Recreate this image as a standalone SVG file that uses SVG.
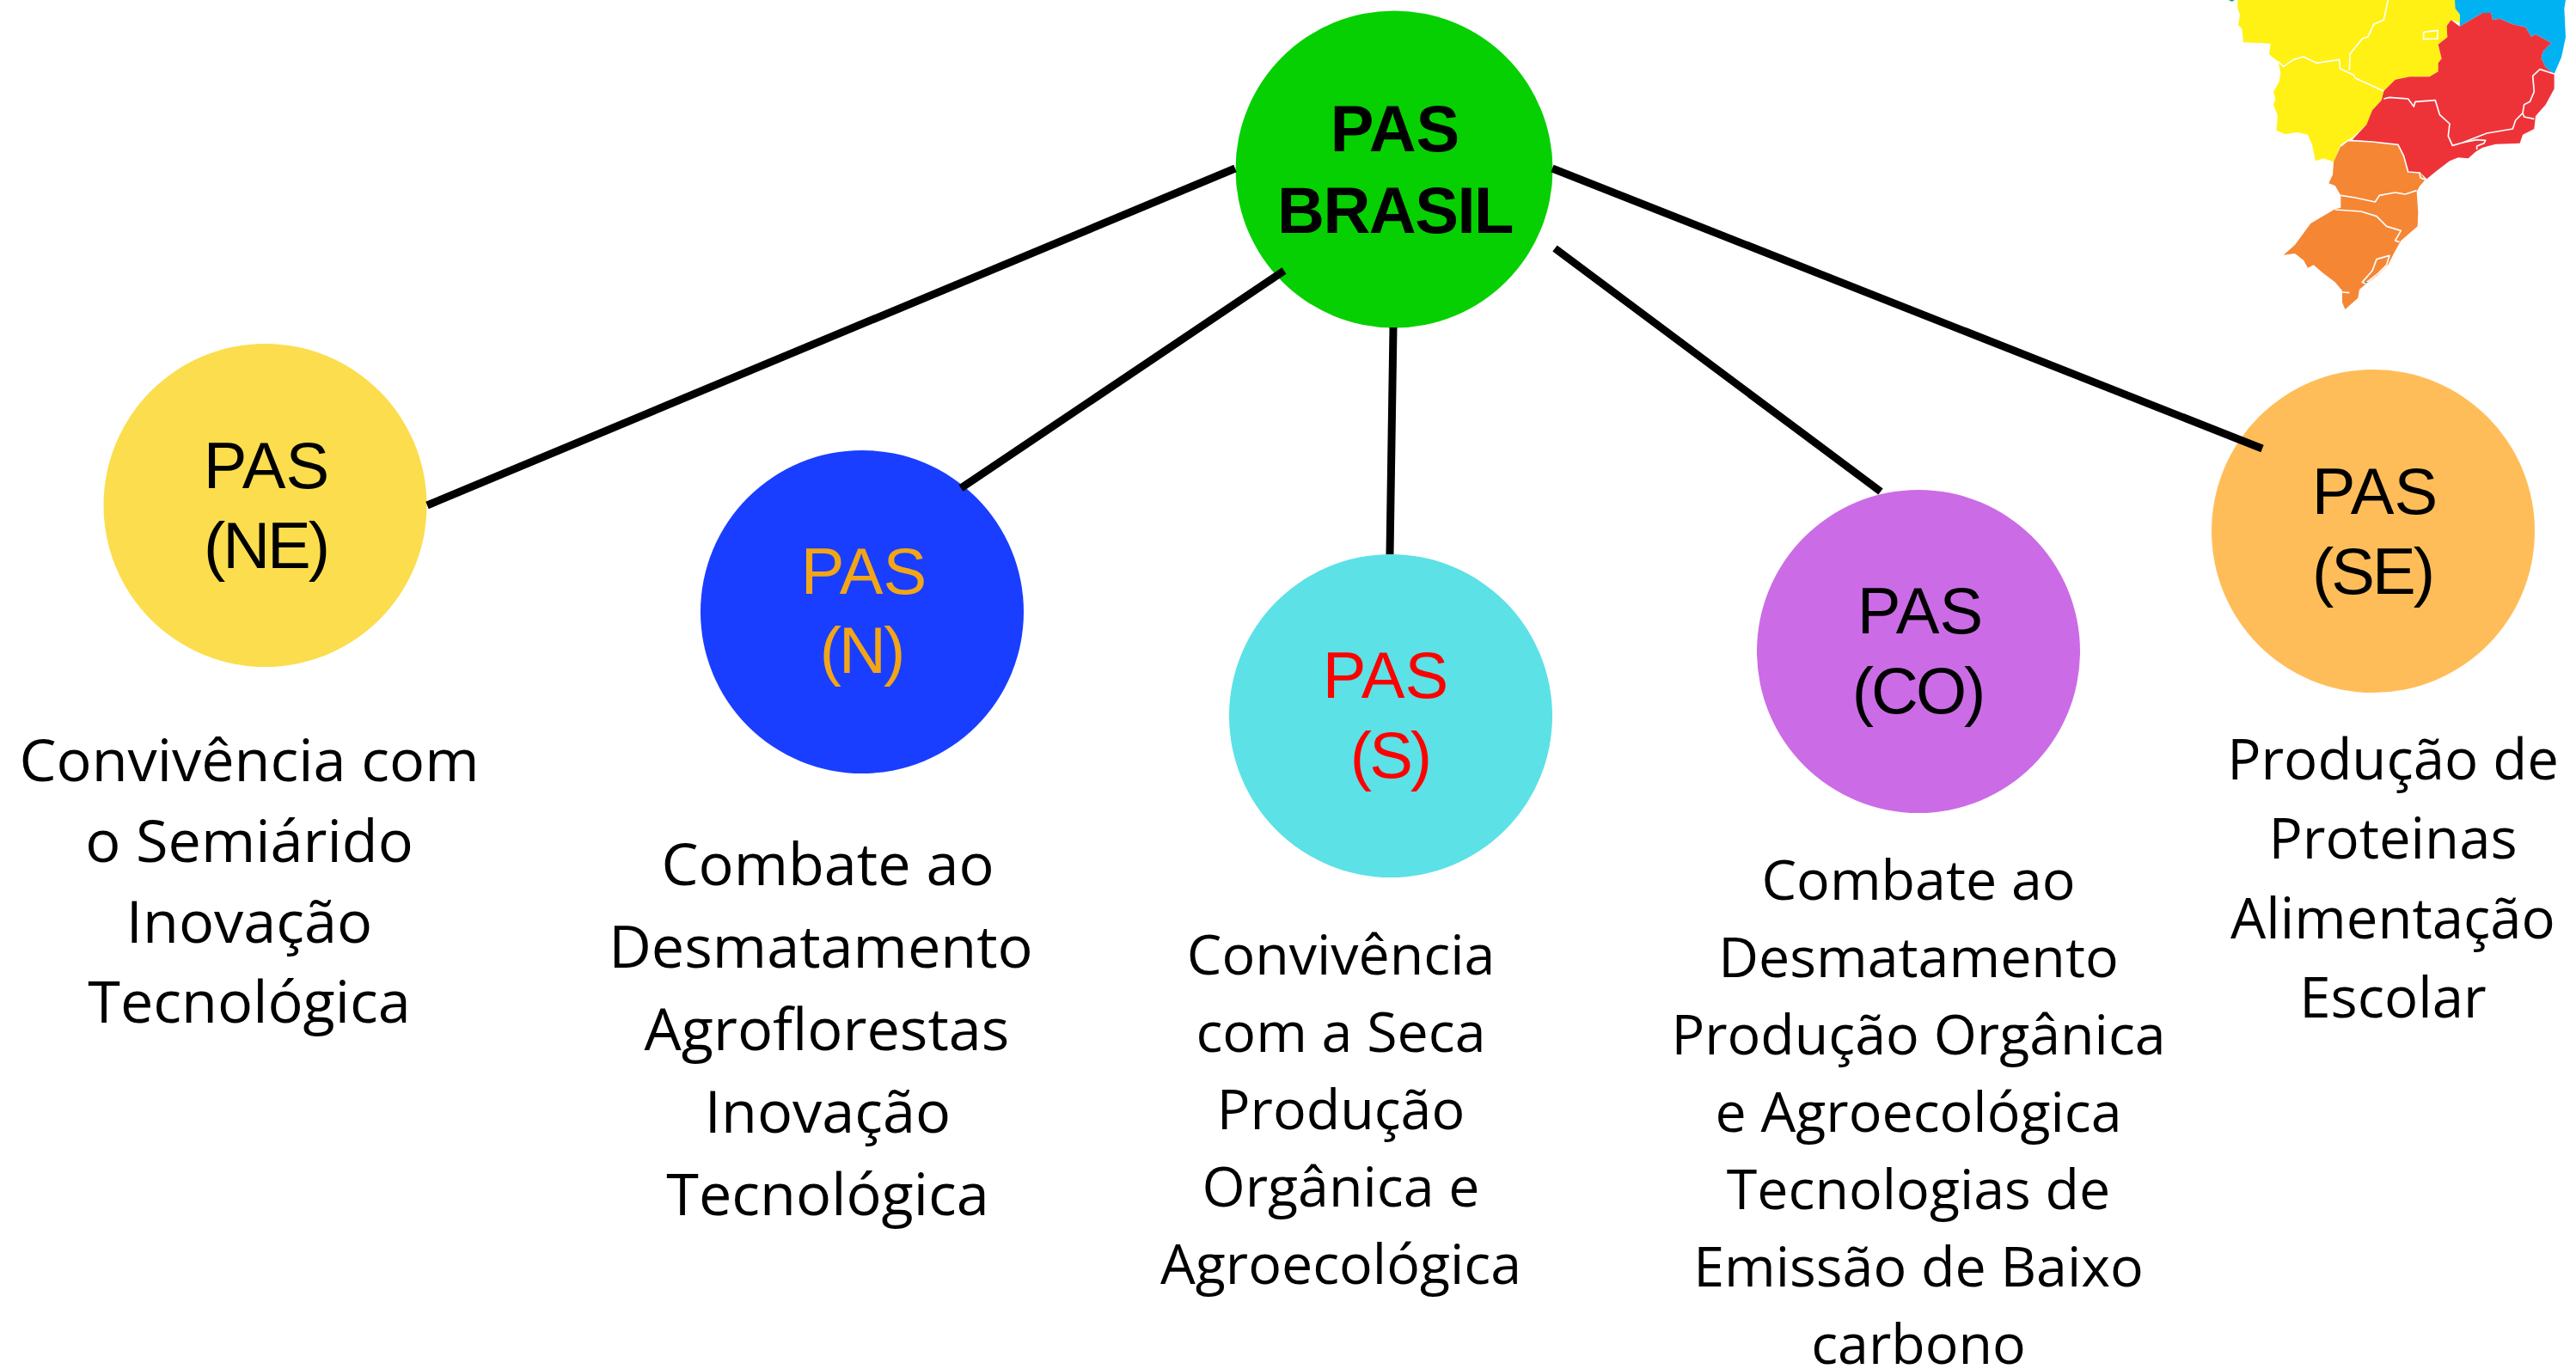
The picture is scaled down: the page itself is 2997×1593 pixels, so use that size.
<svg xmlns="http://www.w3.org/2000/svg" width="2997" height="1593" viewBox="0 0 2997 1593">
<style>
.c{fill:none;stroke:#000;stroke-width:9}
.n{font-family:"Liberation Sans",Arial,sans-serif;font-size:76px;text-anchor:middle}
.p{font-family:"Liberation Sans",Arial,sans-serif;font-size:76px;text-anchor:middle;letter-spacing:-3px}
.b{font-family:"Liberation Sans",Arial,sans-serif;font-size:76px;font-weight:700;text-anchor:middle}
.d{font-family:"Open Sans",sans-serif;font-size:64.500px;text-anchor:middle;fill:#000}
.l{font-size:68.400px}
.s{font-size:65.300px}
.w{fill:none;stroke:#fff;stroke-width:5;stroke-linejoin:round}
</style>
<rect width="2997" height="1593" fill="#fff"/>
<g id="map" transform="translate(2560,0) scale(.33333)">
<path fill="#00b2f2" d="M888 0H1275L1270 30L1275 130L1260 200L1235 258L1205 235L1190 205L1195 180L1225 150L1170 120L1155 128L1135 95L1090 85L1045 65L1020 70L1015 45L985 45L905 92L905 50L888 30Z"/>
<path fill="#fff114" d="M130 0H888L890 30L905 50L905 80L875 70L860 90L862 130L830 155L842 205L830 220L830 250L800 268L730 268L680 278L640 318L632 350L600 385L580 435L530 480L490 505L465 565L430 553L402 562L390 505L375 470L340 462L295 468L265 455L270 405L255 365L262 345L255 320L275 285L280 255L272 215L240 190L245 152L205 150L150 148L145 100L132 88L138 50L130 30Z"/>
<path fill="#ee3338" d="M860 90L875 70L905 92L985 45L1015 45L1020 70L1045 65L1090 85L1135 95L1155 128L1170 120L1225 150L1195 180L1190 205L1205 235L1235 258L1235 310L1205 365L1170 405L1165 450L1125 470L1115 500L1030 503L985 515L960 530L935 553L900 550L870 562L820 600L790 625L765 600L725 600L710 545L690 505L530 488L580 435L600 385L632 350L640 318L680 278L730 268L800 268L830 250L830 220L842 205L830 155L862 130Z"/>
<path fill="#f58634" d="M515 490L600 495L690 505L710 545L725 600L765 600L785 628L765 650L755 670L760 740L758 790L700 840L675 885L655 925L620 960L580 990L555 1010L550 1040L505 1080L495 1055L495 1015L470 985L430 955L395 925L375 935L360 908L330 885L290 890L330 855L385 780L470 730L490 725L490 682L470 648L448 640L462 610L465 565L490 510Z"/>
<path class="w" d="M272 215L290 232L325 208L360 198L405 220L485 208L488 240L535 262L540 272L640 318"/>
<path class="w" d="M655 0L640 70L605 85L585 128L565 135L522 188L520 245"/>
<path class="w" d="M780 112L828 106L828 135L778 136Z"/>
<path class="w" d="M640 345L660 340L725 345L745 372L750 355L820 350L835 400L870 432L865 475L880 508L915 498L1000 465L1090 450L1100 420L1125 395L1130 365L1150 355L1165 320L1160 265L1185 242L1235 258"/>
<path class="w" d="M1125 395L1130 408L1165 415"/>
<path class="w" d="M915 498L965 488L995 490L990 500L965 510L965 522"/>
<path class="w" d="M490 510L515 490L600 495L690 505L710 545L725 600L765 603L768 620L785 628"/>
<path class="w" d="M490 682L540 690L610 705L625 682L680 672L715 678L755 665"/>
<path class="w" d="M470 732L560 738L615 755L650 790L700 805L680 840L695 845"/>
<path class="w" d="M565 985L600 945L615 905L660 892L650 925L620 955L575 990Z"/>
<path class="w" d="M495 1020L520 1022"/>
<path fill="#00a651" d="M98 0H120L110 5Z"/>
<path fill="#00a651" d="M574 984L585 984L576 989Z"/>
</g>
<g id="pas-brasil"><circle cx="1622" cy="197" r="184.500" fill="#06d001"/><text class="b" x="1623" y="176">PAS</text><text class="b" x="1623" y="271" letter-spacing="-1.500">BRASIL</text></g>
<g id="pas-ne"><circle cx="308.500" cy="588" r="188" fill="#fbdd4e"/><text class="n" x="310" y="568">PAS</text><text class="p" x="309" y="661">(NE)</text></g>
<g id="pas-n"><circle cx="1003" cy="712" r="188" fill="#1a3eff"/><text class="n" x="1005" y="691" fill="#f2a516">PAS</text><text class="p" x="1002" y="783" fill="#f2a516">(N)</text></g>
<g id="pas-s"><circle cx="1618" cy="833" r="188" fill="#5ce1e6"/><text class="n" x="1612" y="812" fill="#ff0000">PAS</text><text class="p" x="1617" y="905" fill="#ff0000">(S)</text></g>
<g id="pas-co"><circle cx="2232" cy="758" r="188" fill="#cb6ce6"/><text class="n" x="2234" y="737">PAS</text><text class="p" x="2231" y="830">(CO)</text></g>
<g id="pas-se"><circle cx="2761" cy="618" r="188" fill="#ffbd59"/><text class="n" x="2763" y="598">PAS</text><text class="p" x="2760" y="691">(SE)</text></g>
<g id="connectors">
<path class="c" d="M1437 196L497 588"/>
<path class="c" d="M1494 315L1118 568"/>
<path class="c" d="M1621 381L1617 645"/>
<path class="c" d="M1809 289L2188 572"/>
<path class="c" d="M1806 196L2632 522"/>
</g>
<g id="desc-ne"><text class="d l" x="290" y="909">Convivência com</text><text class="d l" x="290" y="1003">o Semiárido</text><text class="d l" x="290" y="1097">Inovação</text><text class="d l" x="290" y="1190">Tecnológica</text></g>
<g id="desc-n"><text class="d l" x="963" y="1030">Combate ao</text><text class="d l" x="955" y="1126">Desmatamento</text><text class="d l" x="962" y="1222">Agroflorestas</text><text class="d l" x="963" y="1318">Inovação</text><text class="d l" x="963" y="1414">Tecnológica</text></g>
<g id="desc-s"><text class="d" x="1560" y="1134">Convivência</text><text class="d" x="1560" y="1224">com a Seca</text><text class="d" x="1560" y="1314">Produção</text><text class="d" x="1560" y="1404">Orgânica e</text><text class="d" x="1560" y="1494">Agroecológica</text></g>
<g id="desc-co"><text class="d" x="2232" y="1047">Combate ao</text><text class="d" x="2232" y="1137">Desmatamento</text><text class="d" x="2232" y="1227">Produção Orgânica</text><text class="d" x="2232" y="1317">e Agroecológica</text><text class="d" x="2232" y="1407">Tecnologias de</text><text class="d" x="2232" y="1497">Emissão de Baixo</text><text class="d" x="2232" y="1587">carbono</text></g>
<g id="desc-se"><text class="d s" x="2784" y="907">Produção de</text><text class="d s" x="2784" y="999">Proteinas</text><text class="d s" x="2784" y="1092">Alimentação</text><text class="d s" x="2784" y="1184">Escolar</text></g>
</svg>
